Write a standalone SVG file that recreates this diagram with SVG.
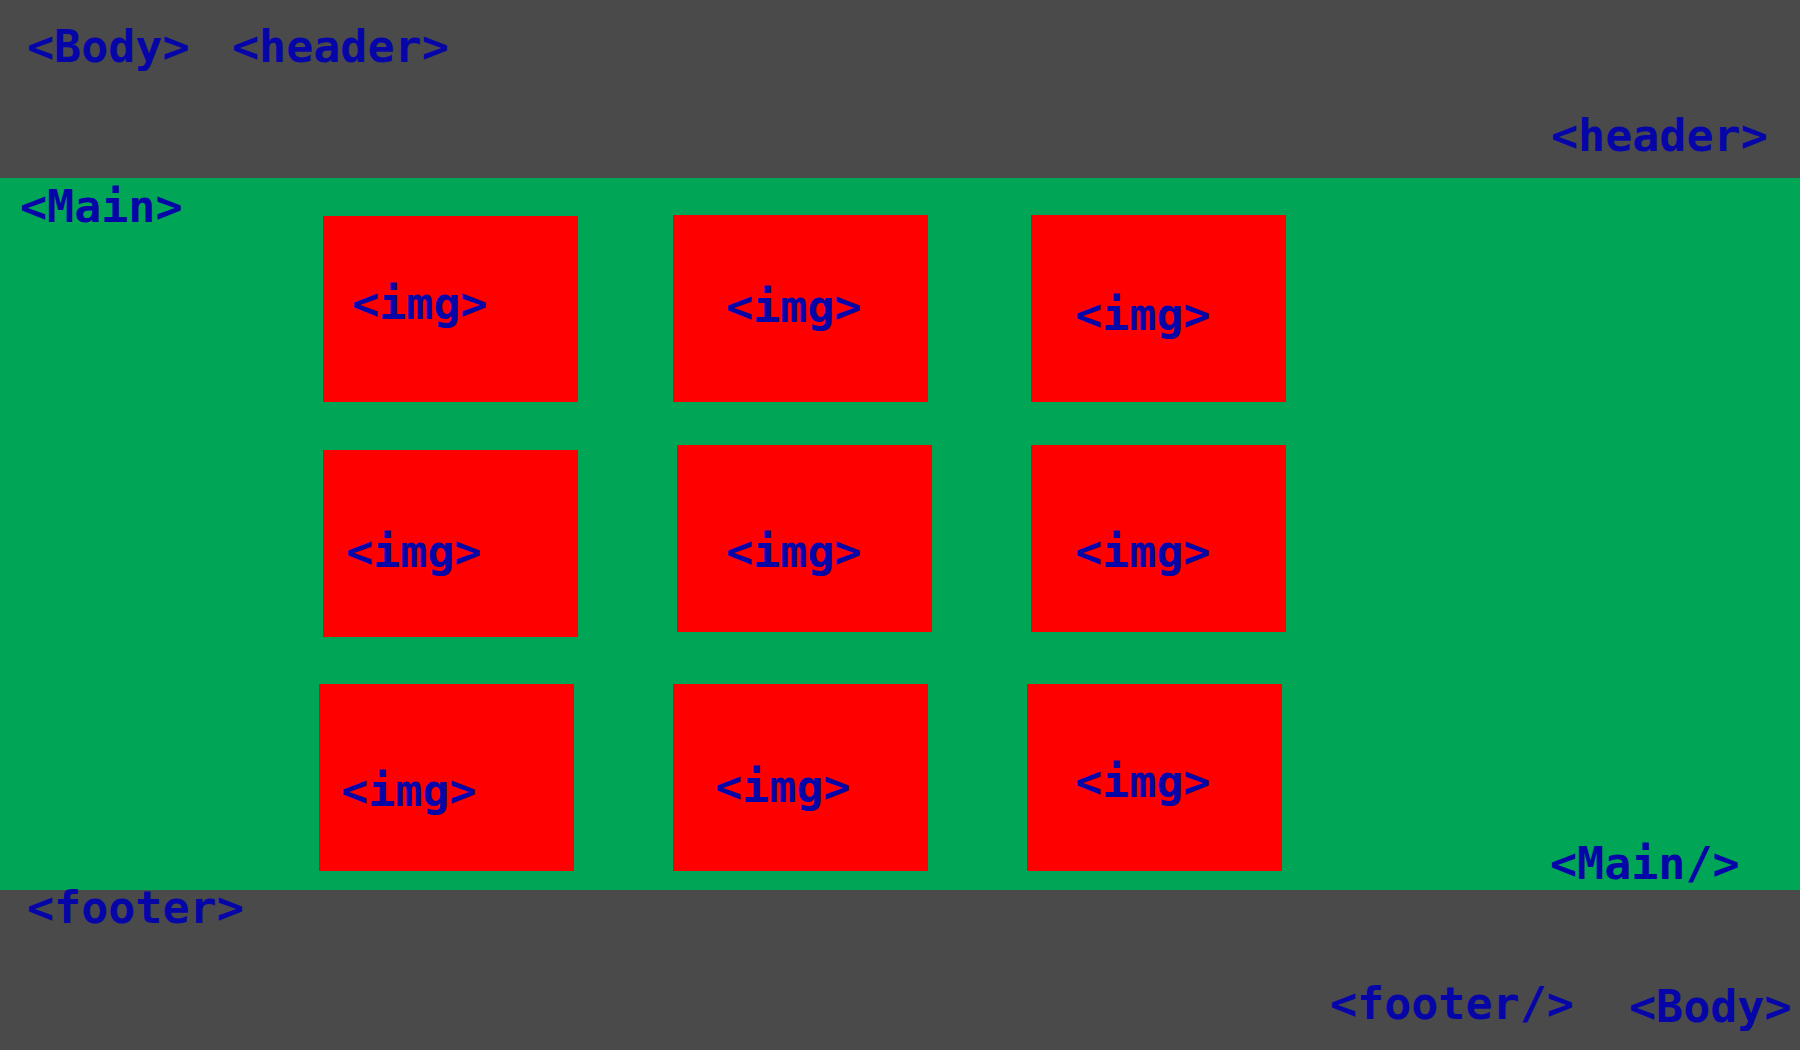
<svg xmlns="http://www.w3.org/2000/svg" width="1800" height="1050" viewBox="0 0 1800 1050">
<style>
.t{font-family:"DejaVu Sans Mono","Liberation Mono",monospace;font-weight:bold;font-size:45px;fill:#0606a8}
.img{fill:#ff0000}
</style>
<rect id="body" x="0" y="0" width="1800" height="1050" fill="#4a4a4a"/>
<g id="main">
<rect x="0" y="178" width="1800" height="712" fill="#00a555"/>
</g>
<g id="img1"><rect class="img" x="323" y="216" width="255" height="186"/><text class="t" x="352" y="319">&lt;img&gt;</text></g>
<g id="img2"><rect class="img" x="673" y="215" width="255" height="187"/><text class="t" x="726" y="322">&lt;img&gt;</text></g>
<g id="img3"><rect class="img" x="1031" y="215" width="255" height="187"/><text class="t" x="1075" y="330">&lt;img&gt;</text></g>
<g id="img4"><rect class="img" x="323" y="450" width="255" height="187"/><text class="t" x="346" y="567">&lt;img&gt;</text></g>
<g id="img5"><rect class="img" x="677" y="445" width="255" height="187"/><text class="t" x="726" y="567">&lt;img&gt;</text></g>
<g id="img6"><rect class="img" x="1031" y="445" width="255" height="187"/><text class="t" x="1075" y="567">&lt;img&gt;</text></g>
<g id="img7"><rect class="img" x="319" y="684" width="255" height="187"/><text class="t" x="341" y="806">&lt;img&gt;</text></g>
<g id="img8"><rect class="img" x="673" y="684" width="255" height="187"/><text class="t" x="715" y="802">&lt;img&gt;</text></g>
<g id="img9"><rect class="img" x="1027" y="684" width="255" height="187"/><text class="t" x="1075" y="797">&lt;img&gt;</text></g>
<g id="labels">
<text class="t" x="27" y="62">&lt;Body&gt;</text>
<text class="t" x="232" y="62">&lt;header&gt;</text>
<text class="t" x="1551" y="151">&lt;header&gt;</text>
<text class="t" x="20" y="222">&lt;Main&gt;</text>
<text class="t" x="1550" y="879">&lt;Main/&gt;</text>
<text class="t" x="27" y="923">&lt;footer&gt;</text>
<text class="t" x="1330" y="1019">&lt;footer/&gt;</text>
<text class="t" x="1629" y="1022">&lt;Body&gt;</text>
</g>
<g id="connectors"/>
</svg>
